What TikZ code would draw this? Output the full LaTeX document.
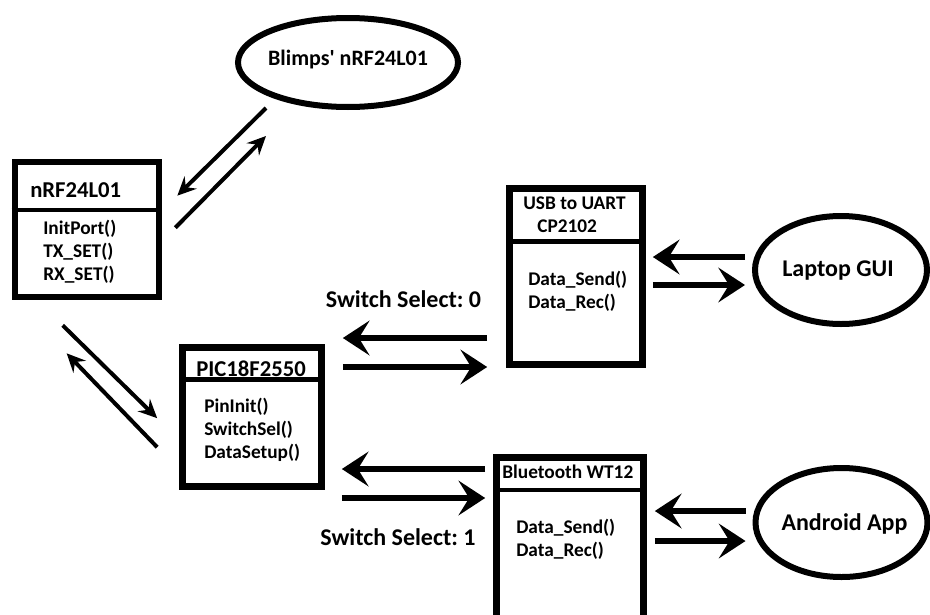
\documentclass[tikz,border=0pt]{standalone}
\usepackage{fontspec}
\setmainfont{Carlito}
\frenchspacing
\usetikzlibrary{arrows.meta,shapes.geometric}
\tikzset{
  unit/.style={draw,line width=5pt,inner sep=0pt},
  radio/.style={ellipse,draw,line width=4.5pt,inner sep=0pt},
  divider/.style={line width=3.4pt},
  wire/.style={line width=4.2pt,-{Stealth[length=20pt,width=26pt,inset=8pt]}},
  air/.style={line width=3pt,-{Stealth[length=14pt,width=13pt,inset=5pt]}},
  heading/.style={font=\fontsize{17}{20}\selectfont\bfseries,inner sep=0pt},
  subheading/.style={font=\fontsize{14.5}{17.25}\selectfont\bfseries,inner sep=0pt,anchor=west},
  method/.style={font=\fontsize{14.5}{17.25}\selectfont\bfseries,inner sep=0pt,anchor=west},
  caption/.style={font=\fontsize{18}{21}\selectfont\bfseries,inner sep=0pt},
}
\newcommand{\methodlist}[4]{%
  \foreach \fn [count=\k] in {#4}{
    \node[method] (#1-\k) at ({#2},{#3+22.75*(\k-1)}) {\fn};}
}

\begin{document}
\begin{tikzpicture}[x=0.75pt,y=-0.75pt]
  \useasboundingbox (0,0) rectangle (930,614);
  \fill[white] (0,0) rectangle (930,614);
  % hardware blocks
  \node[unit,minimum width=108pt,minimum height=101.25pt] (nrf) at (87,229.5) {};
  \node[unit,minimum width=104.25pt,minimum height=104.25pt] (pic) at (252,417) {};
  \node[unit,minimum width=99.75pt,minimum height=132pt] (usb) at (576,276.5) {};
  \node[unit,minimum width=110.25pt,minimum height=120.4pt] (bt) at (570,537.75) {};
  \draw[divider] (nrf.west |- 0,210) -- (nrf.east |- 0,210);
  \draw[divider] (pic.west |- 0,379.5) -- (pic.east |- 0,379.5);
  \draw[divider] (usb.west |- 0,241.5) -- (usb.east |- 0,241.5);
  \draw[divider] (bt.west |- 0,490) -- (bt.east |- 0,490);
  \node[heading,anchor=west] (nrf-name) at (30,190) {nRF24L01};
  \node[heading] (pic-name) at (251,369) {PIC18F2550};
  \node[subheading] (usb-name) at (523,203.5) {USB to UART};
  \node[subheading] (usb-chip) at (537,226) {CP2102};
  \node[subheading] (bt-name) at (502,471.5) {Bluetooth WT12};
  \methodlist{nrf-fn}{43}{229}{InitPort(),TX\_SET(),RX\_SET()}
  \methodlist{pic-fn}{204}{407}{PinInit(),SwitchSel(),DataSetup()}
  \methodlist{usb-fn}{528}{280}{Data\_Send(),Data\_Rec()}
  \methodlist{bt-fn}{516}{528}{Data\_Send(),Data\_Rec()}
  % outside ends
  \node[radio,minimum width=165pt,minimum height=66.75pt] (blimps) at (348,62.5) {};
  \node[radio,minimum width=129pt,minimum height=81pt] (laptop) at (841,270) {};
  \node[radio,minimum width=129pt,minimum height=81.75pt] (android) at (841.5,522.5) {};
  \node[caption,font=\fontsize{16.5}{20}\selectfont\bfseries] (blimps-name) at (348,59.5) {Blimps\textquotesingle{} nRF24L01};
  \node[caption] (laptop-name) at (838,270.5) {Laptop GUI};
  \node[caption] (android-name) at (844.5,523.5) {Android App};
  \node[caption] (sel0) at (403.5,299) {Switch Select: 0};
  \node[caption] (sel1) at (398,537) {Switch Select: 1};
  % radio links
  \draw[air] ([shift={(-82,-2)}]blimps.south) -- ([shift={(15,37)}]nrf.north east);
  \draw[air] ([shift={(13,69)}]nrf.north east) -- ([shift={(-82,26)}]blimps.south);
  \draw[air] ([shift={(51,25)}]nrf.south west) -- ([shift={(-22,74)}]pic.north west);
  \draw[air] ([shift={(-22,103)}]pic.north west) -- ([shift={(55,53)}]nrf.south west);
  % serial links
  \draw[wire,shorten <=14.25pt,shorten >=13.5pt] (usb.west |- 0,338) -- (pic.east |- 0,338);
  \draw[wire,shorten <=13.5pt,shorten >=14.25pt] (pic.east |- 0,367) -- (usb.west |- 0,367);
  \draw[wire,shorten <=6pt,shorten >=12.75pt] (bt.west |- 0,469) -- (pic.east |- 0,469);
  \draw[wire,shorten <=12.75pt,shorten >=6pt] (pic.east |- 0,498) -- (bt.west |- 0,498);
  \draw[wire,shorten <=5.25pt,shorten >=5.25pt] (laptop.west |- 0,257) -- (usb.east |- 0,257);
  \draw[wire,shorten <=5.25pt,shorten >=5.25pt] (usb.east |- 0,285) -- (laptop.west |- 0,285);
  \draw[wire,shorten <=5.25pt,shorten >=6pt] (android.west |- 0,511) -- (bt.east |- 0,511);
  \draw[wire,shorten <=6pt,shorten >=5.25pt] (bt.east |- 0,541) -- (android.west |- 0,541);
\end{tikzpicture}
\end{document}
